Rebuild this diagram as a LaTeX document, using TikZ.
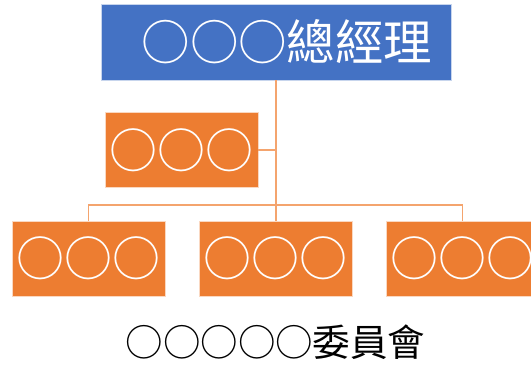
\documentclass[tikz,border=0pt]{standalone}
\usepackage{fontspec}
\newfontfamily\cjk{Noto Sans CJK TC}
\definecolor{topblue}{HTML}{4472C4}
\definecolor{boxorange}{HTML}{ED7D31}
\definecolor{lineorange}{HTML}{F4A46E}
\begin{document}
\begin{tikzpicture}[x=1pt,y=-1pt,
  unitbox/.style={fill=boxorange, draw=white!70!boxorange, line width=0.6pt, minimum width=153pt, minimum height=75pt, inner sep=0pt, text=white, font=\cjk\fontsize{48}{48}\selectfont},
  headbox/.style={fill=topblue, draw=white!70!topblue, line width=0.6pt, minimum width=350pt, minimum height=76pt, inner sep=0pt, text=white, font=\cjk\fontsize{48.5}{48.5}\selectfont},
  conn/.style={draw=lineorange, line width=1.6pt}]
\useasboundingbox (0,0) rectangle (531,367);
\clip (0,0) rectangle (531,367);
\node[headbox] (top) at (276,42) {\hskip22pt○○○總經理};
\node[unitbox] (asst) at (181.5,150) {○○○};
\node[unitbox] (b1) at (88.4,258.5) {○○○};
\node[unitbox] (b2) at (275.7,258.5) {○○○};
\node[unitbox] (b3) at (462.6,258.5) {○○○};
\node[font=\cjk\fontsize{37.5}{37.5}\selectfont, text=black] (cmte) at (275.5,342) {○○○○○委員會};
\draw[conn] (top.south -| b2.north) -- (b2.north);
\draw[conn] (asst.east) -- (asst.east -| b2.north);
\draw[conn] (b1.north) -- ++(0,-16) -| (b3.north);
\end{tikzpicture}
\end{document}
